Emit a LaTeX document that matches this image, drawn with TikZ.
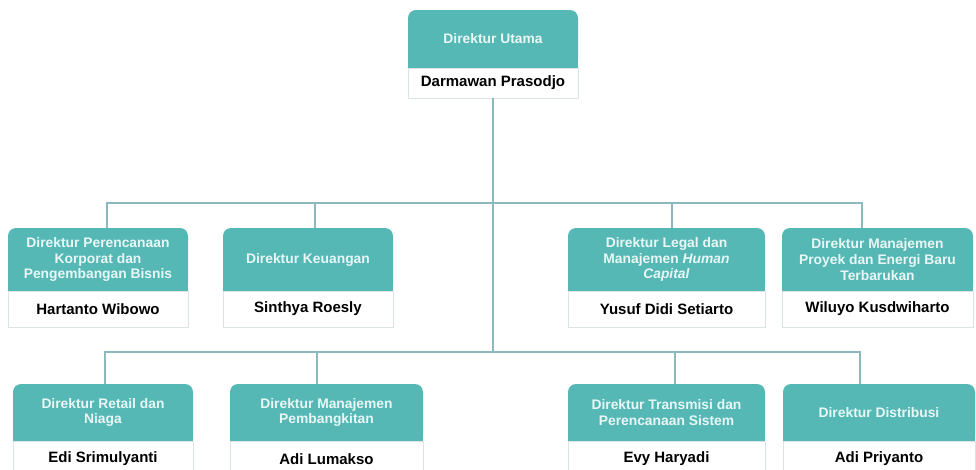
\documentclass[tikz,border=0pt]{standalone}
\usepackage{fontspec}
\setmainfont{Liberation Sans}
\usetikzlibrary{positioning,backgrounds}
\definecolor{tosca}{HTML}{55B8B5}
\definecolor{garis}{HTML}{8DB8BE}
\definecolor{tepi}{HTML}{DCE5E5}
\definecolor{teksjudul}{HTML}{E8F7F5}

\begin{document}
\begin{tikzpicture}[
    x=0.6pt, y=-0.6pt,
    kepala/.style={fill=tosca, rounded corners=4.8pt, text=teksjudul, align=center, inner sep=2pt, outer sep=0pt, minimum width=#1, font=\fontsize{8.3}{9.4}\selectfont\bfseries},
    nama/.style={draw=tepi, fill=white, line width=0.6pt, outer sep=0pt, inner sep=2pt, minimum width=#1, font=\fontsize{9}{10}\selectfont\bfseries},
    hub/.style={draw=garis, line width=0.7pt},
  ]
    \useasboundingbox (0,0) rectangle (976,470);
    \clip (0,0) rectangle (976,470);

    % direktur utama
    \node[kepala=102pt, minimum height=34.8pt] (du) at (493,39) {Direktur Utama};
    \node[nama=102pt, minimum height=18pt, below=0pt of du] (dun) {Darmawan Prasodjo};

    % baris pertama
    \node[kepala=108pt, minimum height=37.8pt] (k1) at (98,259.5) {Direktur Perencanaan\\Korporat dan\\Pengembangan Bisnis};
    \node[nama=108pt, minimum height=21.6pt, below=0pt of k1] (k1n) {Hartanto Wibowo};
    \node[kepala=102pt, minimum height=37.8pt] (k2) at (308,259.5) {Direktur Keuangan};
    \node[nama=102pt, minimum height=21.6pt, below=0pt of k2] (k2n) {Sinthya Roesly};
    \node[kepala=118.2pt, minimum height=37.8pt] (k3) at (666.5,259.5) {Direktur Legal dan\\Manajemen \textit{Human}\\\textit{Capital}};
    \node[nama=118.2pt, minimum height=21.6pt, below=0pt of k3] (k3n) {Yusuf Didi Setiarto};
    \node[kepala=114.6pt, minimum height=37.8pt] (k4) at (877.5,259.5) {Direktur Manajemen\\Proyek dan Energi Baru\\Terbarukan};
    \node[nama=114.6pt, minimum height=21.6pt, below=0pt of k4] (k4n) {Wiluyo Kusdwiharto};

    % baris kedua
    \node[kepala=108pt, minimum height=34.2pt] (k5) at (103,412.5) {Direktur Retail dan\\Niaga};
    \node[nama=108pt, minimum height=21.6pt, below=0pt of k5] (k5n) {Edi Srimulyanti};
    \node[kepala=115.8pt, minimum height=34.2pt] (k6) at (326.5,412.5) {Direktur Manajemen\\Pembangkitan};
    \node[nama=115.8pt, minimum height=21.6pt, below=0pt of k6] (k6n) {Adi Lumakso};
    \node[kepala=118.2pt, minimum height=34.2pt] (k7) at (666.5,412.5) {Direktur Transmisi dan\\Perencanaan Sistem};
    \node[nama=118.2pt, minimum height=21.6pt, below=0pt of k7] (k7n) {Evy Haryadi};
    \node[kepala=115.2pt, minimum height=34.2pt] (k8) at (879,412.5) {Direktur Distribusi};
    \node[nama=115.2pt, minimum height=21.6pt, below=0pt of k8] (k8n) {Adi Priyanto};

    % sudut bawah kepala dibuat siku
    \begin{scope}[on background layer]
      \foreach \k in {du,k1,k2,k3,k4,k5,k6,k7,k8}
        \fill[tosca] (\k.west) rectangle (\k.south east);
    \end{scope}

    % garis hubung
    \coordinate (bar1) at (493,203);
    \coordinate (bar2) at (493,352);
    \draw[hub] (dun.south) -- (bar2);
    \foreach \k/\dx in {k1/5.4, k2/4.2, k3/3.3, k4/-9.3}
      \draw[hub] (bar1) -| ([xshift=\dx pt]\k.north);
    \foreach \k/\dx in {k5/1.2, k6/-5.7, k7/5.1, k8/-11.4}
      \draw[hub] (bar2) -| ([xshift=\dx pt]\k.north);
\end{tikzpicture}
\end{document}
